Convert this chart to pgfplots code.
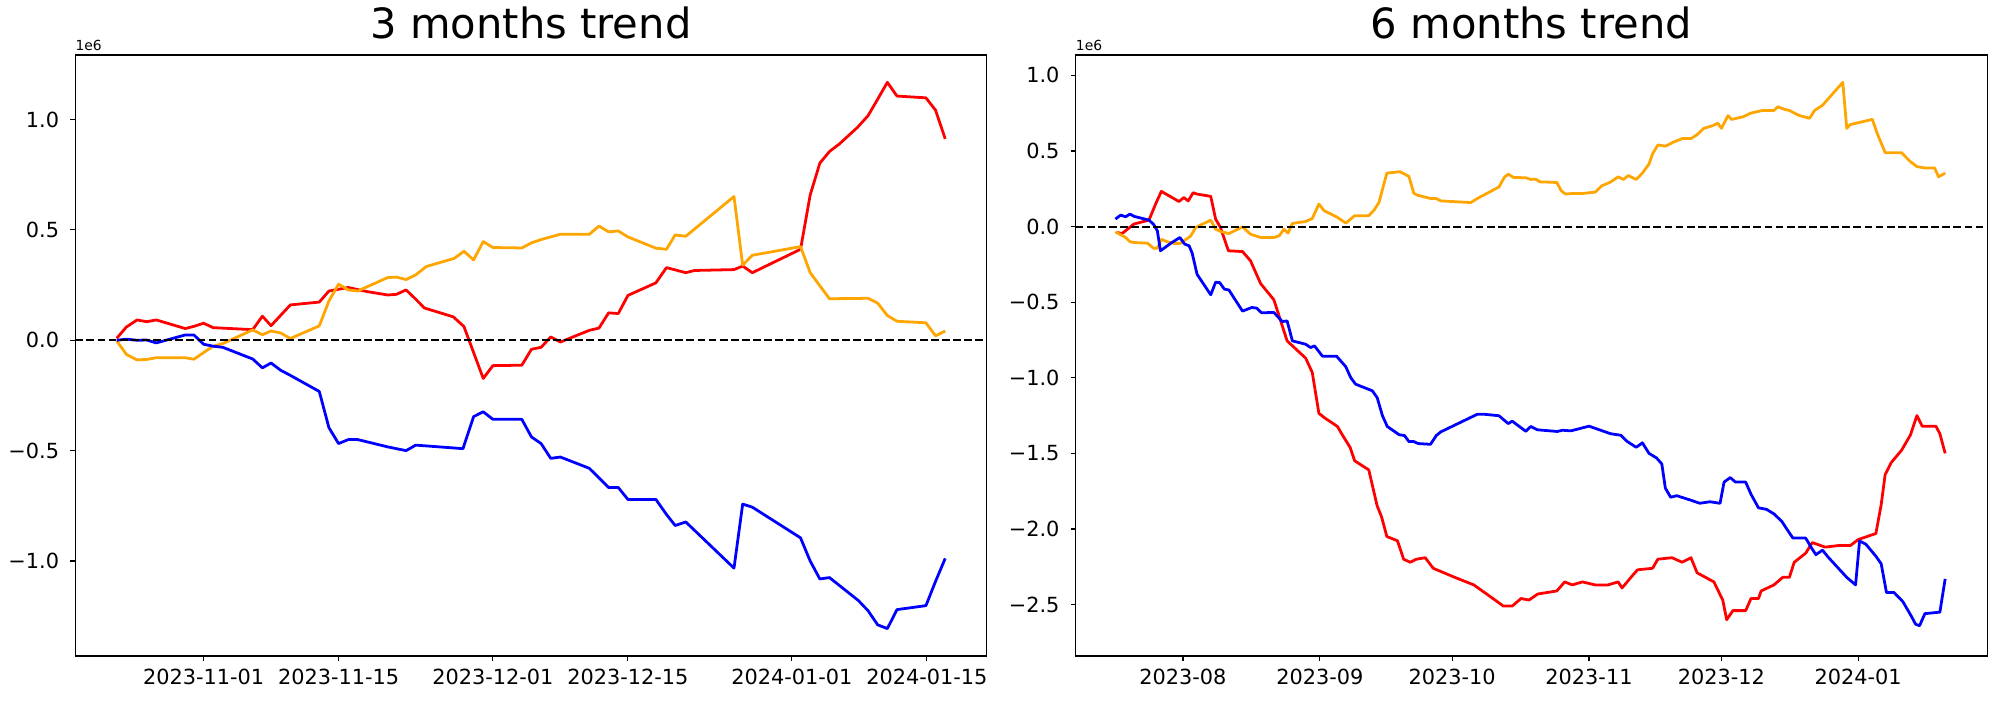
\documentclass[border=0pt]{standalone}
\usepackage{fontspec}
\setmainfont{DejaVu Sans}
\usepackage{pgfplots}
\pgfplotsset{compat=1.18}
\definecolor{mplorange}{HTML}{FFA500}

% common look of both panels (matplotlib-like)
\pgfplotsset{trend/.style={
    scale only axis, width=656.2pt, height=432.7pt,
    anchor=south west,
    axis line style={line width=0.8pt},
    tick align=outside, tick pos=left,
    major tick length=3.5pt,
    every tick/.style={black, line width=0.8pt},
    /pgf/number format/assume math mode=true,
    ticklabel style={font=\fontsize{15}{18}\selectfont, inner sep=0pt},
    yticklabel style={anchor=east, xshift=-8pt},
    xticklabel style={anchor=north, yshift=-6pt},
    title style={font=\fontsize{30}{36}\selectfont, anchor=base, at={(0.5,1)}, yshift=6pt, inner sep=0pt},
    every axis plot/.append style={line width=2pt, line join=round, mark=none},
}}

\begin{document}
\begin{tikzpicture}
\path[use as bounding box] (0,0) rectangle (1440pt,504pt);

% x: days since 2023-11-01, y: value in 1e6
\begin{axis}[trend, name=L, at={(54.2pt,31.7pt)},
    title={3 months trend},
    xmin=-13.3, xmax=81.2, ymin=-1.430, ymax=1.292,
    xtick={0,14,30,44,61,75},
    xticklabels={2023-11-01,2023-11-15,2023-12-01,2023-12-15,2024-01-01,2024-01-15},
    ytick={-1,-0.5,0,0.5,1},
    yticklabels={−1.0,−0.5,0.0,0.5,1.0},
]
\addplot[red] coordinates {
(-9.0,0.009)(-8.0,0.060)(-6.9,0.092)(-5.9,0.084)(-4.9,0.092)(-1.9,0.053)(-1.0,0.063)(0.0,0.077)(1.0,0.057)(5.1,0.048)(6.1,0.109)(7.0,0.066)(9.0,0.160)(12.0,0.173)(13.0,0.223)(15.0,0.239)(17.0,0.220)(19.1,0.205)(20.0,0.208)(21.0,0.228)(22.0,0.186)(22.9,0.146)(25.9,0.106)(27.0,0.062)(29.0,-0.173)(30.0,-0.115)(33.0,-0.113)(34.0,-0.041)(35.0,-0.032)(36.0,0.015)(37.0,-0.008)(40.0,0.045)(41.0,0.055)(42.0,0.124)(43.0,0.121)(44.0,0.203)(46.9,0.260)(48.0,0.329)(50.0,0.306)(50.9,0.316)(55.0,0.320)(55.9,0.336)(56.9,0.306)(61.9,0.412)(62.9,0.658)(63.9,0.802)(64.9,0.855)(65.9,0.888)(67.8,0.964)(68.9,1.017)(69.9,1.092)(70.9,1.168)(71.9,1.106)(74.9,1.098)(75.9,1.042)(76.9,0.912)
};
\addplot[mplorange] coordinates {
(-9.0,-0.003)(-8.0,-0.064)(-6.9,-0.089)(-5.9,-0.087)(-4.9,-0.079)(-1.9,-0.079)(-1.0,-0.086)(0.0,-0.056)(1.0,-0.027)(2.0,-0.015)(5.1,0.047)(6.1,0.025)(7.0,0.042)(8.0,0.033)(9.0,0.008)(12.0,0.065)(13.0,0.178)(14.0,0.254)(15.0,0.228)(16.0,0.223)(17.0,0.243)(19.1,0.284)(20.0,0.286)(21.0,0.275)(22.0,0.296)(23.1,0.334)(26.0,0.371)(27.0,0.403)(28.0,0.364)(29.0,0.447)(30.0,0.420)(33.0,0.418)(34.0,0.441)(35.0,0.456)(36.0,0.468)(37.0,0.480)(40.0,0.480)(41.0,0.517)(42.0,0.491)(43.0,0.495)(44.0,0.468)(46.9,0.417)(48.0,0.412)(48.9,0.477)(50.0,0.471)(55.0,0.651)(55.9,0.340)(56.9,0.385)(61.9,0.424)(62.9,0.306)(64.9,0.188)(68.9,0.190)(69.9,0.168)(70.9,0.112)(71.9,0.086)(74.9,0.079)(75.9,0.020)(76.9,0.042)
};
\addplot[blue] coordinates {
(-9.0,0.000)(-8.0,0.005)(-6.9,0.000)(-5.9,0.001)(-4.9,-0.012)(-1.9,0.024)(-1.0,0.024)(0.0,-0.018)(1.0,-0.027)(2.0,-0.032)(5.1,-0.085)(6.1,-0.125)(7.0,-0.103)(8.0,-0.136)(9.0,-0.159)(12.0,-0.232)(13.0,-0.396)(14.0,-0.468)(15.0,-0.450)(16.0,-0.450)(19.1,-0.483)(21.0,-0.500)(22.0,-0.475)(26.9,-0.491)(28.0,-0.346)(29.0,-0.324)(30.0,-0.358)(33.0,-0.358)(34.0,-0.438)(35.0,-0.468)(36.0,-0.535)(37.0,-0.529)(40.0,-0.580)(42.0,-0.667)(43.0,-0.667)(44.0,-0.721)(46.9,-0.721)(48.0,-0.789)(48.9,-0.839)(50.0,-0.823)(55.0,-1.032)(55.9,-0.742)(56.9,-0.756)(61.9,-0.895)(62.9,-1.000)(63.9,-1.081)(64.9,-1.075)(67.9,-1.179)(68.9,-1.225)(69.9,-1.289)(70.9,-1.306)(71.9,-1.220)(74.9,-1.202)(75.9,-1.092)(76.9,-0.988)
};
\addplot[black, line width=1.5pt, line join=miter, dash pattern=on 5.6pt off 2.4pt] coordinates {(-13.3,0)(81.2,0)};
\end{axis}
\node[anchor=base west, inner sep=0pt, font=\fontsize{10}{12}\selectfont] at ([yshift=3pt]L.north west) {1e6};

% x: days since 2023-08-01, y: value in 1e6
\begin{axis}[trend, name=R, at={(774.5pt,31.7pt)},
    title={6 months trend},
    xmin=-24.3, xmax=182.2, ymin=-2.84, ymax=1.135,
    xtick={0,31,61,92,122,153},
    xticklabels={2023-08,2023-09,2023-10,2023-11,2023-12,2024-01},
    ytick={-2.5,-2,-1.5,-1,-0.5,0,0.5,1},
    yticklabels={−2.5,−2.0,−1.5,−1.0,−0.5,0.0,0.5,1.0},
]
\addplot[red] coordinates {
(-14.9,-0.039)(-13.8,-0.046)(-11.1,0.017)(-7.7,0.043)(-6.2,0.149)(-4.9,0.233)(-0.9,0.166)(0.2,0.192)(1.2,0.170)(2.3,0.224)(3.2,0.215)(6.3,0.200)(7.4,0.050)(8.5,-0.006)(10.3,-0.160)(13.5,-0.165)(15.3,-0.226)(17.6,-0.377)(20.6,-0.484)(23.6,-0.756)(27.8,-0.870)(29.3,-0.965)(30.8,-1.235)(32.0,-1.263)(35.0,-1.322)(36.1,-1.377)(37.9,-1.462)(38.9,-1.549)(42.1,-1.609)(44.0,-1.847)(45.0,-1.920)(46.2,-2.050)(48.6,-2.078)(50.0,-2.20)(51.5,-2.22)(52.9,-2.20)(54.9,-2.19)(56.7,-2.26)(61.6,-2.32)(65.9,-2.37)(68.8,-2.43)(72.6,-2.51)(74.6,-2.51)(76.6,-2.46)(78.4,-2.47)(80.4,-2.43)(84.7,-2.41)(86.5,-2.35)(88.2,-2.37)(90.5,-2.35)(93.4,-2.37)(96.3,-2.37)(98.6,-2.35)(99.5,-2.39)(101.5,-2.32)(103.0,-2.27)(106.4,-2.26)(107.6,-2.20)(110.8,-2.19)(113.1,-2.22)(115.1,-2.19)(116.5,-2.29)(120.3,-2.35)(122.3,-2.47)(123.2,-2.60)(124.6,-2.54)(127.5,-2.54)(128.7,-2.46)(130.4,-2.46)(131.0,-2.41)(133.9,-2.37)(135.9,-2.32)(137.4,-2.32)(138.5,-2.22)(141.1,-2.16)(142.6,-2.09)(145.5,-2.12)(148.4,-2.11)(151.2,-2.11)(153.0,-2.07)(157.0,-2.03)(158.2,-1.84)(159.1,-1.64)(160.5,-1.56)(162.8,-1.48)(164.8,-1.38)(166.3,-1.25)(167.5,-1.32)(170.6,-1.32)(171.5,-1.37)(172.7,-1.50)
};
\addplot[mplorange] coordinates {
(-15.3,-0.035)(-14.1,-0.054)(-13.0,-0.072)(-12.0,-0.100)(-11.1,-0.105)(-8.0,-0.110)(-6.7,-0.143)(-5.8,-0.143)(-4.9,-0.084)(-3.6,-0.100)(-2.0,-0.111)(-0.6,-0.111)(0.6,-0.086)(1.7,-0.064)(2.9,-0.006)(6.3,0.043)(7.4,-0.017)(8.5,-0.032)(10.4,-0.046)(13.5,-0.002)(15.3,-0.050)(17.6,-0.072)(20.6,-0.072)(21.8,-0.061)(22.9,-0.017)(23.8,-0.043)(24.8,0.021)(27.8,0.034)(29.3,0.054)(30.8,0.149)(32.0,0.105)(35.0,0.061)(36.9,0.023)(38.9,0.072)(42.1,0.072)(43.3,0.109)(44.4,0.159)(46.2,0.354)(49.2,0.363)(51.2,0.332)(52.3,0.221)(53.1,0.208)(56.1,0.186)(57.3,0.186)(58.4,0.170)(65.2,0.159)(66.7,0.186)(71.6,0.262)(72.8,0.325)(73.7,0.347)(74.9,0.325)(77.7,0.323)(78.8,0.312)(79.9,0.314)(80.9,0.296)(84.7,0.292)(85.7,0.237)(86.7,0.215)(88.2,0.219)(90.5,0.219)(93.4,0.228)(94.9,0.270)(96.9,0.295)(98.6,0.329)(99.8,0.312)(100.9,0.338)(102.7,0.312)(104.1,0.354)(105.6,0.414)(106.4,0.481)(107.6,0.540)(109.3,0.532)(111.0,0.557)(113.1,0.582)(115.1,0.582)(116.5,0.608)(118.0,0.650)(120.0,0.667)(121.2,0.684)(122.0,0.650)(123.5,0.734)(124.3,0.709)(126.9,0.726)(128.7,0.751)(131.3,0.768)(133.9,0.768)(134.8,0.793)(136.2,0.776)(137.4,0.768)(139.7,0.734)(142.0,0.717)(143.1,0.768)(144.9,0.802)(149.5,0.954)(150.4,0.650)(151.2,0.675)(156.2,0.709)(157.3,0.616)(159.1,0.489)(162.8,0.489)(164.8,0.430)(166.3,0.397)(168.1,0.388)(170.3,0.388)(171.2,0.329)(172.7,0.354)
};
\addplot[blue] coordinates {
(-15.3,0.050)(-14.1,0.076)(-13.0,0.065)(-12.0,0.083)(-11.1,0.068)(-7.7,0.043)(-6.6,0.013)(-5.8,-0.028)(-5.1,-0.160)(-2.8,-0.111)(-0.7,-0.072)(0.4,-0.116)(1.4,-0.127)(2.1,-0.177)(3.2,-0.316)(6.3,-0.451)(7.4,-0.368)(8.3,-0.370)(9.4,-0.414)(10.4,-0.419)(13.5,-0.559)(15.6,-0.535)(16.7,-0.539)(17.8,-0.570)(20.6,-0.568)(22.5,-0.628)(23.6,-0.624)(24.8,-0.756)(27.8,-0.778)(28.9,-0.800)(29.8,-0.789)(31.6,-0.857)(34.8,-0.857)(36.9,-0.927)(38.0,-0.998)(39.1,-1.042)(42.9,-1.086)(44.0,-1.131)(45.2,-1.251)(46.3,-1.322)(49.0,-1.377)(50.2,-1.382)(51.2,-1.422)(52.3,-1.422)(53.3,-1.435)(56.1,-1.440)(57.4,-1.382)(58.4,-1.358)(66.7,-1.241)(68.2,-1.241)(71.6,-1.251)(73.7,-1.303)(74.6,-1.287)(77.7,-1.354)(78.8,-1.322)(80.3,-1.344)(84.8,-1.355)(86.0,-1.347)(87.9,-1.351)(92.0,-1.32)(96.9,-1.37)(99.2,-1.38)(100.6,-1.42)(102.7,-1.46)(104.1,-1.43)(105.6,-1.50)(107.3,-1.53)(108.5,-1.57)(109.3,-1.73)(110.5,-1.79)(111.9,-1.78)(115.1,-1.81)(117.1,-1.83)(119.4,-1.82)(121.7,-1.83)(122.6,-1.69)(124.0,-1.66)(125.2,-1.69)(127.5,-1.69)(128.7,-1.77)(130.4,-1.86)(132.2,-1.87)(133.9,-1.90)(135.7,-1.95)(136.8,-2.00)(138.2,-2.06)(141.1,-2.06)(142.3,-2.12)(143.4,-2.17)(144.9,-2.14)(146.3,-2.19)(150.4,-2.32)(152.4,-2.37)(153.3,-2.08)(154.7,-2.10)(157.0,-2.18)(158.2,-2.23)(159.4,-2.42)(161.1,-2.42)(163.1,-2.48)(164.9,-2.57)(166.0,-2.63)(166.9,-2.64)(168.1,-2.56)(171.5,-2.55)(172.7,-2.33)
};
\addplot[black, line width=1.5pt, line join=miter, dash pattern=on 5.6pt off 2.4pt] coordinates {(-24.3,0)(182.2,0)};
\end{axis}
\node[anchor=base west, inner sep=0pt, font=\fontsize{10}{12}\selectfont] at ([yshift=3pt]R.north west) {1e6};
\end{tikzpicture}
\end{document}
